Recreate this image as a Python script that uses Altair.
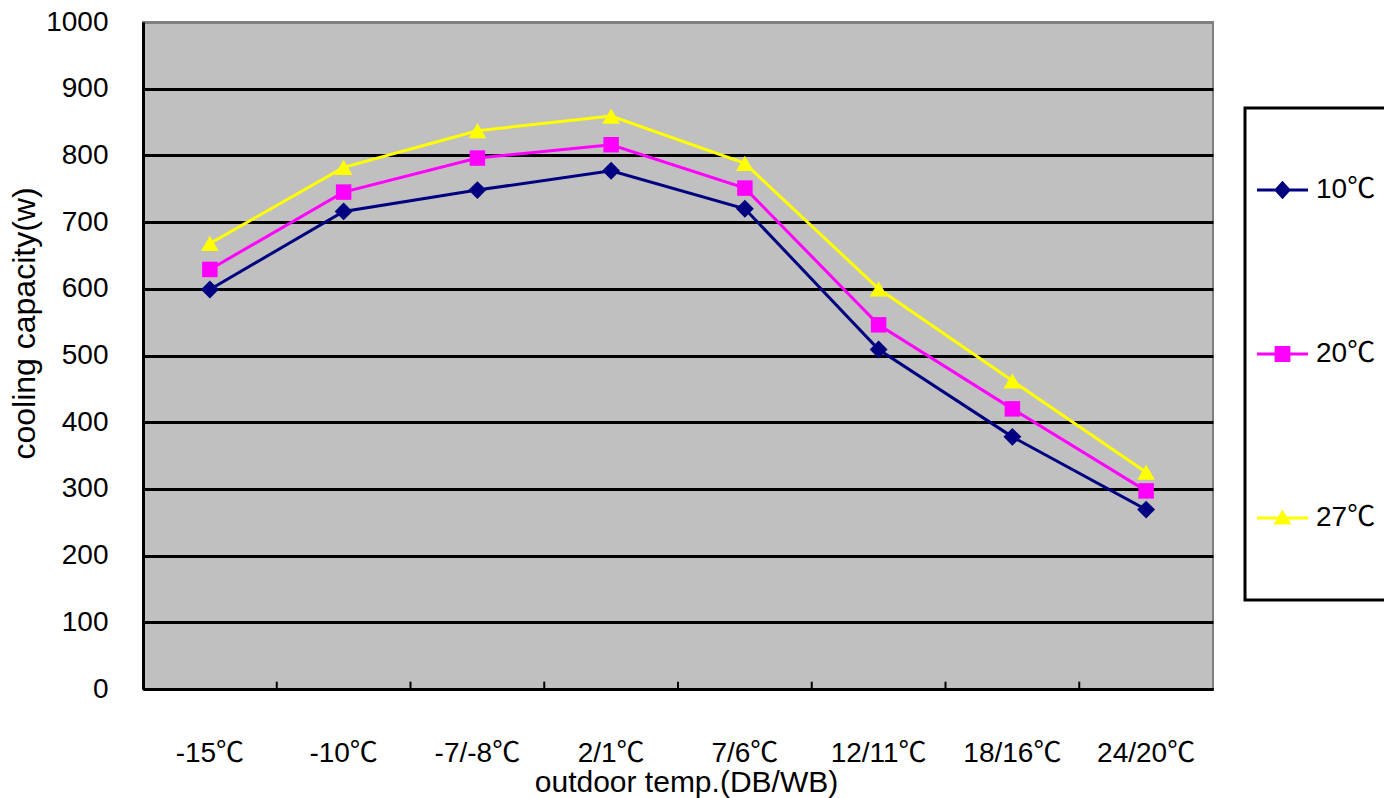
import altair as alt
import pandas as pd

categories = ["-15℃", "-10℃", "-7/-8℃", "2/1℃", "7/6℃", "12/11℃", "18/16℃", "24/20℃"]
series = ["10℃", "20℃", "27℃"]
s10 = [599, 716, 748, 777, 720, 509, 378, 269]
s20 = [629, 745, 796, 816, 751, 546, 420, 297]
s27 = [668, 782, 837, 859, 788, 600, 462, 325]
y_ticks = [0, 100, 200, 300, 400, 500, 600, 700, 800, 900, 1000]

colors = ["#000080", "#FF00FF", "#FFFF00"]
shapes = ["diamond", "square", "triangle-up"]
marker_sizes = [320, 240, 310]
# legend symbols: a short line (thin filled bar) with the series marker on it
legend_paths = [
    "M-1,-0.06L1,-0.06L1,0.06L-1,0.06Z M0,-0.36L0.33,0L0,0.36L-0.33,0Z",
    "M-1,-0.06L1,-0.06L1,0.06L-1,0.06Z M-0.31,-0.31L0.31,-0.31L0.31,0.31L-0.31,0.31Z",
    "M-1,-0.06L1,-0.06L1,0.06L-1,0.06Z M0,-0.33L0.35,0.25L-0.35,0.25Z",
]

rows = []
for name, vals in zip(series, [s10, s20, s27]):
    for c, v in zip(categories, vals):
        rows.append({"temp": c, "series": name, "value": v})
df = pd.DataFrame(rows)
tick_df = pd.DataFrame({"temp": categories[1:]})

FONT = "Liberation Sans, Arial, Noto Sans CJK SC, sans-serif"

x_scale = alt.Scale(type="band", domain=categories, paddingInner=0, paddingOuter=0)
y_scale = alt.Scale(domain=[0, 1000], nice=False)

x_axis = alt.Axis(
    title="outdoor temp.(DB/WB)", labelAngle=0, ticks=False, grid=False,
    labelPadding=50, domainColor="black", domainWidth=3,
    labelFont=FONT, labelFontSize=28, labelColor="black",
    titleFont=FONT, titleFontSize=30, titleFontWeight="normal", titleColor="black",
    titleX=543, titleY=93, titleBaseline="middle", titleAlign="center",
)
y_axis = alt.Axis(
    title="cooling capacity(w)", values=y_ticks, format="d", ticks=False, grid=True,
    gridColor={"condition": {"test": "datum.value >= 1000", "value": "#808080"}, "value": "black"},
    gridWidth=3, domainColor="black", domainWidth=3, labelPadding=35,
    labelFont=FONT, labelFontSize=28, labelColor="black",
    titleFont=FONT, titleFontSize=32, titleFontWeight="normal", titleColor="black",
    titleX=-119, titleY=301, titleBaseline="middle", titleAlign="center", titleAngle=270,
)

base = alt.Chart(df)
X = alt.X("temp:N", scale=x_scale, bandPosition=0.5, axis=x_axis)
Y = alt.Y("value:Q", scale=y_scale, axis=y_axis)

ticks = alt.Chart(tick_df).mark_rule(color="black", strokeWidth=2).encode(
    x=alt.X("temp:N", scale=x_scale, bandPosition=0, axis=x_axis),
    y=alt.datum(0, scale=y_scale),
    y2=alt.datum(11),
)

leg = alt.Legend(
    title=None, orient="none", legendX=1102, legendY=86,
    strokeColor="black", fillColor="white", padding=12, rowPadding=24,
    clipHeight=140, symbolSize=2601, symbolOpacity=1, symbolStrokeWidth=0,
    symbolOffset=0, labelOffset=8, labelFont=FONT, labelFontSize=28,
    labelColor="black", labelLimit=0,
)

# invisible layer that only provides the legend (colour + marker shape)
legend_layer = base.mark_point(filled=True, opacity=0).encode(
    x=X, y=Y,
    color=alt.Color("series:N", scale=alt.Scale(domain=series, range=colors), legend=leg),
    shape=alt.Shape("series:N", scale=alt.Scale(domain=series, range=legend_paths), legend=leg),
)

lines = base.mark_line(strokeWidth=3).encode(
    x=X, y=Y,
    stroke=alt.Stroke("series:N", scale=alt.Scale(domain=series, range=colors), legend=None),
)

point_layers = []
for name, col, shp, sz in zip(series, colors, shapes, marker_sizes):
    point_layers.append(
        base.transform_filter(alt.datum.series == name).mark_point(
            filled=True, size=sz, opacity=1, shape=shp, color=col
        ).encode(x=X, y=Y)
    )

chart = alt.layer(legend_layer, ticks, lines, *point_layers).properties(
    width=1070, height=667,
    autosize=alt.AutoSizeParams(type="none"),
    padding={"left": 135, "top": 14, "right": 171, "bottom": 109},
).configure_view(
    fill="#C0C0C0", stroke="#808080", strokeWidth=2
).configure_legend(
    strokeWidth=3
)

chart.save("out.html", embed_options={"renderer": "svg", "actions": False})
